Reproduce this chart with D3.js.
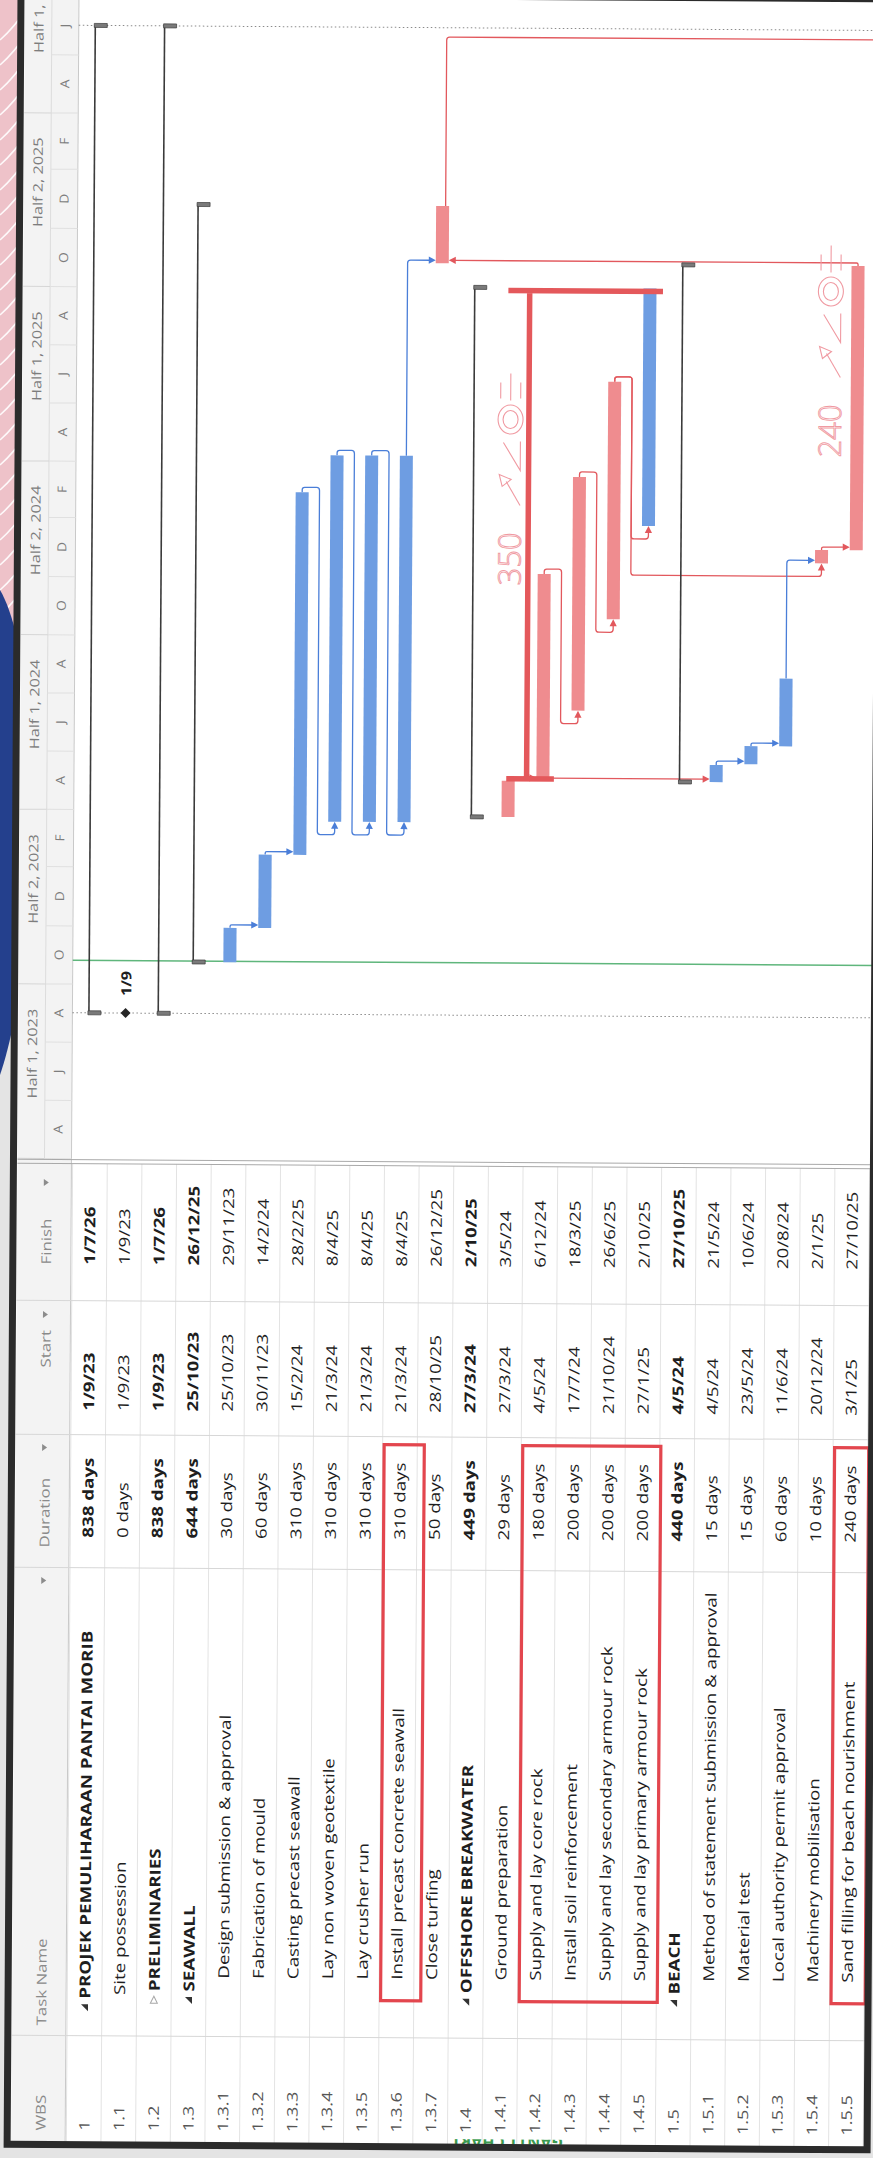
<!DOCTYPE html>
<html>
<head>
<meta charset="utf-8">
<script src="https://cdn.jsdelivr.net/npm/d3@7/dist/d3.min.js"></script>
<style>
  html, body { margin: 0; padding: 0; background: #e2e2e2; }
  svg { display: block; }
  text { font-family: "Open Sans", "Noto Sans", sans-serif; }
</style>
</head>
<body>
<svg id="gantt" width="873" height="2158"></svg>
<script>
// ---- values ----
const wbs = ["1","1.1","1.2","1.3","1.3.1","1.3.2","1.3.3","1.3.4","1.3.5","1.3.6","1.3.7",
             "1.4","1.4.1","1.4.2","1.4.3","1.4.4","1.4.5","1.5","1.5.1","1.5.2","1.5.3","1.5.4","1.5.5"];
const taskNames = ["PROJEK PEMULIHARAAN PANTAI MORIB","Site possession","PRELIMINARIES","SEAWALL",
  "Design submission & approval","Fabrication of mould","Casting precast seawall","Lay non woven geotextile",
  "Lay crusher run","Install precast concrete seawall","Close turfing","OFFSHORE BREAKWATER",
  "Ground preparation","Supply and lay core rock","Install soil reinforcement",
  "Supply and lay secondary armour rock","Supply and lay primary armour rock","BEACH",
  "Method of statement submission & approval","Material test","Local authority permit approval",
  "Machinery mobilisation","Sand filling for beach nourishment"];
const durations = ["838 days","0 days","838 days","644 days","30 days","60 days","310 days","310 days",
  "310 days","310 days","50 days","449 days","29 days","180 days","200 days","200 days","200 days",
  "440 days","15 days","15 days","60 days","10 days","240 days"];
const starts = ["1/9/23","1/9/23","1/9/23","25/10/23","25/10/23","30/11/23","15/2/24","21/3/24","21/3/24",
  "21/3/24","28/10/25","27/3/24","27/3/24","4/5/24","17/7/24","21/10/24","27/1/25","4/5/24","4/5/24",
  "23/5/24","11/6/24","20/12/24","3/1/25"];
const finishes = ["1/7/26","1/9/23","1/7/26","26/12/25","29/11/23","14/2/24","28/2/25","8/4/25","8/4/25",
  "8/4/25","26/12/25","2/10/25","3/5/24","6/12/24","18/3/25","26/6/25","2/10/25","27/10/25","21/5/24",
  "10/6/24","20/8/24","2/1/25","27/10/25"];
const outline = [1,2,2,2,3,3,3,3,3,3,3,2,3,3,3,3,3,2,3,3,3,3,3];
const rowKind = ["summary","milestone","collapsed","summary","task","task","task","task","task","task","task",
  "summary","task","task","task","task","task","summary","task","task","task","task","task"];
const critical = [0,0,0,0,0,0,0,0,0,0,1,0,1,1,1,1,0,0,0,0,0,1,1];
const links = [["1.3.1","1.3.2"],["1.3.2","1.3.3"],["1.3.3","1.3.4"],["1.3.4","1.3.5"],["1.3.5","1.3.6"],
  ["1.3.6","1.3.7"],["1.4.1","1.4.2"],["1.4.1","1.5.1"],["1.4.2","1.4.3"],["1.4.3","1.4.4"],
  ["1.4.4","1.4.5"],["1.4.4","1.5.4"],["1.5.1","1.5.2"],["1.5.2","1.5.3"],["1.5.3","1.5.4"],
  ["1.5.4","1.5.5"],["1.5.5","1.3.7"]];
const hiddenSuccessorStart = "19/6/26";   // task below the photo edge, linked from 1.3.7
const statusDate = "26/10/23";            // green line
const halfLabels = ["Half 1, 2023","Half 2, 2023","Half 1, 2024","Half 2, 2024","Half 1, 2025","Half 2, 2025","Half 1, 2026"];
const columns = ["WBS","Task Name","Duration","Start","Finish"];
const handNotes = ["350","240"];          // pen notes on the print
const highlighted = [["1.3.6"],["1.4.2","1.4.3","1.4.4","1.4.5"],["1.5.5"]];

// ---- layout ----
const W = 873, H = 2158;
const parseD = d3.timeParse("%d/%m/%y");
const rowX = d3.scaleLinear().domain([0, 22]).range([90.5, 852.8]);
const pitch = rowX(1) - rowX(0);
const timeY = d3.scaleTime().domain([new Date(2023, 3, 1), new Date(2026, 6, 1)]).range([1161, 28.6]);
const hw = 6.5, stretch = 1.25;
const BLUE = "#6e9de2", RED = "#ef8c8f", LBLUE = "#4a7ed8", LRED = "#e2585d";

const tasks = wbs.map((w, i) => ({
  i, wbs: w, name: taskNames[i], dur: durations[i], start: starts[i], finish: finishes[i],
  lvl: outline[i], kind: rowKind[i], crit: critical[i] === 1,
  s: parseD(starts[i]), e: d3.timeDay.offset(parseD(finishes[i]), 1)
}));
const byWbs = new Map(tasks.map(t => [t.wbs, t]));

const svg = d3.select("#gantt");
const defs = svg.append("defs");
defs.append("clipPath").attr("id", "edgeclip").append("rect")
  .attr("x", 380).attr("y", 2139).attr("width", 260).attr("height", 5);

// ---- photo backdrop (outside the printed sheet) ----
svg.append("rect").attr("width", W).attr("height", H).attr("fill", "#e4e4e4");
svg.append("rect").attr("x", 0).attr("y", 0).attr("width", 40).attr("height", 640).attr("fill", "#eec2c9");
svg.append("g").selectAll("path").data(d3.range(24)).join("path")
  .attr("d", k => `M0,${40 + k * 25} Q14,${28 + k * 25} 30,${4 + k * 25}`)
  .attr("fill", "none").attr("stroke", "#fff").attr("stroke-width", 1.6).attr("opacity", 0.9);
svg.append("path").attr("d", "M0,590 C12,610 26,660 28,730 L28,900 C24,980 12,1040 0,1075 Z").attr("fill", "#24408d");

// ---- the sheet, slightly turned in the photo ----
const g = svg.append("g").attr("transform", "rotate(0.37,436,1079)");
g.append("rect").attr("x", 14).attr("y", -4).attr("width", 860).attr("height", 2151).attr("fill", "#fff");
g.append("rect").attr("x", 18).attr("y", -4).attr("width", 54).attr("height", 2151).attr("fill", "#f3f3f3");
g.append("line").attr("x1", 72).attr("x2", 72).attr("y1", -4).attr("y2", 2147).attr("stroke", "#c9c9c9");
g.append("line").attr("x1", 45).attr("x2", 45).attr("y1", -4).attr("y2", 1162).attr("stroke", "#dcdcdc");

function vtext(parent, x, y, str, size, opts = {}) {
  return parent.append("text")
    .attr("transform", `translate(${x},${y}) rotate(-90) scale(${opts.sx || stretch},1)`)
    .attr("dominant-baseline", opts.base || "central")
    .attr("text-anchor", opts.anchor || "start")
    .attr("font-size", size)
    .attr("font-weight", opts.bold ? 700 : 400)
    .attr("fill", opts.fill || "#1e1e1e")
    .text(str);
}

// orthogonal polyline with small rounded corners, like the link lines in the print
function roundedPath(pts, r = 3) {
  let d = `M${pts[0][0]},${pts[0][1]}`;
  for (let k = 1; k < pts.length - 1; k++) {
    const [ax, ay] = pts[k - 1], [bx, by] = pts[k], [cx, cy] = pts[k + 1];
    const l1 = Math.hypot(bx - ax, by - ay), l2 = Math.hypot(cx - bx, cy - by);
    const rr = Math.min(r, l1 / 2, l2 / 2);
    if (rr < 0.5) { d += `L${bx},${by}`; continue; }
    const p1 = [bx - (bx - ax) / l1 * rr, by - (by - ay) / l1 * rr];
    const p2 = [bx + (cx - bx) / l2 * rr, by + (cy - by) / l2 * rr];
    d += `L${p1[0]},${p1[1]}Q${bx},${by} ${p2[0]},${p2[1]}`;
  }
  const last = pts[pts.length - 1];
  return d + `L${last[0]},${last[1]}`;
}

// ---- timescale header ----
const hdr = g.append("g");
const halfStarts = d3.timeMonth.range(new Date(2023, 3, 1), new Date(2026, 9, 1), 6);
halfStarts.forEach((d, k) => {
  const yy = timeY(d);
  hdr.append("line").attr("x1", 18).attr("x2", 45).attr("y1", yy).attr("y2", yy).attr("stroke", "#d6d6d6");
  const mid = new Date((d.getTime() + d3.timeMonth.offset(d, 6).getTime()) / 2);
  vtext(hdr, 31.5, timeY(mid) - 17.5, halfLabels[k], 13, { anchor: "middle", fill: "#7d7d7d" });
});
const pairStarts = d3.timeMonth.range(new Date(2023, 3, 1), new Date(2026, 7, 1), 2);
pairStarts.forEach(d => {
  const yy = timeY(d);
  hdr.append("line").attr("x1", 45).attr("x2", 72).attr("y1", yy).attr("y2", yy).attr("stroke", "#e0e0e0");
  const mid = new Date((d.getTime() + d3.timeMonth.offset(d, 2).getTime()) / 2);
  vtext(hdr, 58, timeY(mid), d3.timeFormat("%b")(d)[0], 12.5, { anchor: "middle", fill: "#7d7d7d", sx: 1.1 });
});

// ---- chart guide lines ----
const chartG = g.append("g");
[tasks[0].s, tasks[0].e].forEach(d => {
  chartG.append("line").attr("x1", 72).attr("x2", 880).attr("y1", timeY(d)).attr("y2", timeY(d))
    .attr("stroke", "#8a8a8a").attr("stroke-dasharray", "1.5,2.5");
});
chartG.append("line").attr("x1", 72).attr("x2", 880)
  .attr("y1", timeY(parseD(statusDate))).attr("y2", timeY(parseD(statusDate)))
  .attr("stroke", "#5fb67c").attr("stroke-width", 1.5);

// ---- links ----
function arrowHead(parent, tip, dir, color) {
  const L = 7, w = 3.6;
  const bx = tip[0] - L * dir[0], by = tip[1] - L * dir[1];
  const px = -dir[1], py = dir[0];
  parent.append("path")
    .attr("d", `M${tip[0]},${tip[1]}L${bx + w * px},${by + w * py}L${bx - w * px},${by - w * py}Z`)
    .attr("fill", color);
}
const linkG = chartG.append("g").attr("fill", "none").attr("stroke-width", 1.3);
links.forEach(([a, b]) => {
  const p = byWbs.get(a), s = byWbs.get(b);
  const col = p.crit ? LRED : LBLUE;
  const xp = rowX(p.i), xs = rowX(s.i), yPE = timeY(p.e), yS = timeY(s.s);
  let pts, tip, dir;
  if (xs > xp && yS <= yPE + 1) {
    const ya = yS - 3;
    pts = [[xp, yPE], [xp, ya], [xs - hw - 6, ya]]; tip = [xs - hw, ya]; dir = [1, 0];
  } else if (xs > xp) {
    const xg = xp + pitch / 2, yt = yPE - 5, yb = yS + 13;
    pts = [[xp, yPE], [xp, yt], [xg, yt], [xg, yb], [xs, yb], [xs, yS + 6]]; tip = [xs, yS]; dir = [0, -1];
  } else {
    const ya = yS - 3;
    pts = [[xp, yPE], [xp, ya], [xs + hw + 6, ya]]; tip = [xs + hw, ya]; dir = [-1, 0];
  }
  linkG.append("path").attr("d", roundedPath(pts)).attr("stroke", col);
  arrowHead(chartG, tip, dir, col);
});
{
  const p = byWbs.get("1.3.7");
  const yEnd = timeY(parseD(hiddenSuccessorStart)) - 3;
  linkG.append("path").attr("stroke", LRED)
    .attr("d", roundedPath([[rowX(p.i) + 3, timeY(p.e)], [rowX(p.i) + 3, yEnd], [W + 20, yEnd]]));
}

// ---- bars ----
const barG = chartG.append("g");
tasks.filter(t => t.kind === "task").forEach(t => {
  barG.append("rect").attr("x", rowX(t.i) - hw).attr("width", hw * 2)
    .attr("y", timeY(t.e)).attr("height", timeY(t.s) - timeY(t.e))
    .attr("fill", t.crit ? RED : BLUE);
});
tasks.filter(t => t.kind === "summary" || t.kind === "collapsed").forEach(t => {
  const c = rowX(t.i);
  barG.append("line").attr("x1", c - 2).attr("x2", c - 2).attr("y1", timeY(t.s)).attr("y2", timeY(t.e))
    .attr("stroke", "#3b3b3b").attr("stroke-width", 1.6);
  [t.s, t.e].forEach(d => {
    barG.append("rect").attr("x", c - 3).attr("y", timeY(d) - 2).attr("width", 13).attr("height", 4)
      .attr("fill", "#7a7a7a").attr("stroke", "#3b3b3b").attr("stroke-width", 0.7);
  });
});
tasks.filter(t => t.kind === "milestone").forEach(t => {
  const c = rowX(t.i), yy = timeY(t.s);
  barG.append("path").attr("d", `M${c - 5},${yy}L${c},${yy - 5}L${c + 5},${yy}L${c},${yy + 5}Z`).attr("fill", "#262626");
  vtext(barG, c, yy - 17, d3.timeFormat("%-d/%-m")(t.s), 14, { bold: true, sx: 1.15 });
});

// ---- pen marks on the print ----
const pen = chartG.append("g").attr("fill", "none");
{
  const a = byWbs.get("1.4.1"), b = byWbs.get("1.4.2"), z = byWbs.get("1.4.5");
  const yTop = timeY(z.e) + 3, yBot = timeY(b.s) - 2;
  const xv = (rowX(a.i) + rowX(b.i)) / 2 + 1;
  pen.append("path").attr("stroke", "#e4585b").attr("stroke-width", 5.5)
    .attr("d", `M${rowX(a.i) - 3},${yTop}H${rowX(z.i) + 13}M${xv},${yTop}V${yBot}M${rowX(a.i) - 2},${yBot}H${rowX(b.i) + 11}`);
}
function penNote(bx, by, label) {
  const n = chartG.append("g").attr("fill", "none").attr("stroke", "#f09aa2").attr("stroke-width", 1.1);
  n.append("text").attr("transform", `translate(${bx},${by}) rotate(-90)`)
    .attr("font-family", "Liberation Sans, sans-serif").attr("font-size", 31).attr("font-weight", 300)
    .attr("stroke", "#f09aa2").attr("stroke-width", 0.9).attr("fill", "none").text(label);
  n.append("path").attr("d", `M${bx - 1},${by - 80}L${bx - 15},${by - 104}`);
  n.append("path").attr("d", `M${bx - 22},${by - 111}L${bx - 10},${by - 106}L${bx - 19},${by - 99}Z`);
  n.append("path").attr("d", `M${bx - 18},${by - 143}L${bx - 1},${by - 115}V${by - 144}`);
  n.append("ellipse").attr("cx", bx - 11).attr("cy", by - 166).attr("rx", 12.5).attr("ry", 14.5);
  n.append("ellipse").attr("cx", bx - 11).attr("cy", by - 166).attr("rx", 7.5).attr("ry", 9);
  n.append("path").attr("d", `M${bx - 21},${by - 203}V${by - 187}M${bx - 1},${by - 203}V${by - 187}M${bx - 11},${by - 212}V${by - 185}`);
}
penNote(rowX(12) + 11, 585, handNotes[0]);
penNote(rowX(22) - 16, 455, handNotes[1]);

// ---- table ----
const tbl = g.append("g");
const colEdges = [2038, 1570, 1437, 1303];
d3.range(-1, 23).forEach(i => {
  const xx = rowX(i) + pitch / 2;
  tbl.append("line").attr("x1", xx).attr("x2", xx).attr("y1", 1166).attr("y2", 2147).attr("stroke", "#e3e3e3");
});
colEdges.forEach(yy => tbl.append("line").attr("x1", 18).attr("x2", 874).attr("y1", yy).attr("y2", yy).attr("stroke", "#d7d7d7"));
[1162, 1166].forEach(yy => tbl.append("line").attr("x1", 18).attr("x2", 874).attr("y1", yy).attr("y2", yy).attr("stroke", "#a9a9a9"));

// header
const headStart = [2133, 2028, 1550, 1370, 1267];
const headDrop = [null, 1583, 1450, 1317, 1185];
columns.forEach((c, k) => {
  vtext(tbl, 47, headStart[k], c, 13.5, { fill: "#8a8a8a" });
  if (headDrop[k]) {
    const yy = headDrop[k];
    tbl.append("path").attr("d", `M${44.5},${yy - 3.5}L${44.5},${yy + 3.5}L${49.5},${yy}Z`).attr("fill", "#8c8c8c");
  }
});

// rows
tasks.forEach(t => {
  const x = rowX(t.i);
  const bold = t.kind === "summary" || t.kind === "collapsed";
  vtext(tbl, x, 2133, t.wbs, 14.5, { fill: "#555" });
  let ny;
  if (t.lvl === 1) ny = 2001;
  else if (t.lvl === 2) ny = bold ? 1993 : 1997;
  else ny = 1980;
  if (t.kind === "summary") {
    const ty = ny + 9;
    tbl.append("path").attr("d", `M${x + 3.5},${ty - 3.5}L${x + 3.5},${ty + 3.5}L${x - 3.5},${ty - 3.5}Z`).attr("fill", "#333");
  } else if (t.kind === "collapsed") {
    const ty = ny + 9;
    tbl.append("path").attr("d", `M${x},${ty - 4}L${x - 3.5},${ty + 3}L${x + 3.5},${ty + 3}Z`)
      .attr("fill", "none").attr("stroke", "#a8a8a8");
  }
  vtext(tbl, x, ny, t.name, 15, { bold });
  vtext(tbl, x, 1540, t.dur, 15, { bold });
  vtext(tbl, x, 1413, t.start, 15, { bold });
  vtext(tbl, x, 1267, t.finish, 15, { bold });
});

// red boxes drawn on the print
highlighted.forEach(list => {
  const i0 = byWbs.get(list[0]).i, i1 = byWbs.get(list[list.length - 1]).i;
  const x0 = rowX(i0) - pitch / 2 + 1.5, x1 = Math.min(rowX(i1) + pitch / 2 + (list.length === 1 && i1 < 22 ? 7 : 1), 872);
  tbl.append("rect").attr("x", x0).attr("y", 1445).attr("width", x1 - x0).attr("height", 556)
    .attr("fill", "none").attr("stroke", "#e3464e").attr("stroke-width", 3.2);
});

// green title of the next sheet, only a sliver shows at the bottom edge
g.append("g").attr("clip-path", "url(#edgeclip)")
  .append("text").attr("transform", "translate(514,2136) rotate(180)")
  .attr("text-anchor", "middle").attr("font-size", 16).attr("font-weight", 700)
  .attr("fill", "#3d9b50").text("GANTT CHART");

// sheet border
g.append("rect").attr("x", 14).attr("y", -4).attr("width", 860).attr("height", 2151)
  .attr("fill", "none").attr("stroke", "#2b2b2b").attr("stroke-width", 7);
</script>
</body>
</html>
